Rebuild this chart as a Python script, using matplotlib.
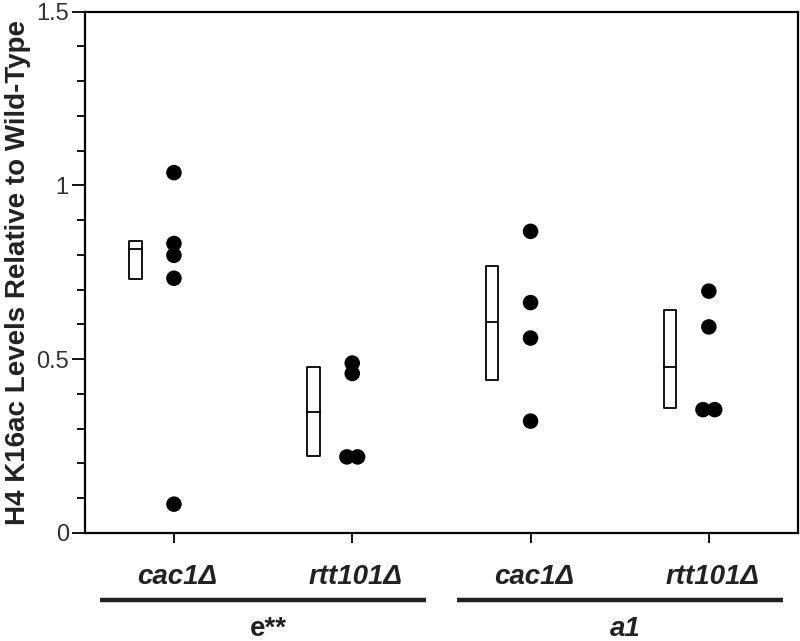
import numpy as np
import matplotlib
matplotlib.use("Agg")
import matplotlib.pyplot as plt
from matplotlib.ticker import MultipleLocator

plt.rcParams['font.family'] = ['Liberation Sans', 'DejaVu Sans']

# data
strains = ["cac1Δ", "rtt101Δ", "cac1Δ", "rtt101Δ"]
groups = ["e**", "a1"]
group_members = [[0, 1], [2, 3]]
yticks = [0, 0.5, 1, 1.5]
ytick_labels = ["0", "0.5", "1", "1.5"]

points = [
    [1.037, 0.833, 0.799, 0.733, 0.083],
    [0.489, 0.459, 0.219, 0.219],
    [0.868, 0.663, 0.561, 0.322],
    [0.696, 0.593, 0.355, 0.355],
]
# jitter for tied points (in category units)
jitter = [
    [0, 0, 0, 0, 0],
    [0, 0, -0.03, 0.03],
    [0, 0, 0, 0],
    [0, 0, -0.033, 0.033],
]
box_low = [0.732, 0.222, 0.440, 0.359]
box_mid = [0.816, 0.349, 0.607, 0.478]
box_high = [0.841, 0.478, 0.767, 0.641]

fig = plt.figure(figsize=(8, 6.41), dpi=100)
ax = fig.add_axes([0.106, 0.1685, 0.8915, 0.8132])

x = np.arange(1, len(strains) + 1)
box_off = -0.217
box_w = 0.071

for i in range(len(strains)):
    xb = x[i] + box_off
    ax.add_patch(plt.Rectangle((xb - box_w / 2, box_low[i]), box_w,
                               box_high[i] - box_low[i], fill=False,
                               edgecolor='black', lw=1.3, joinstyle='round'))
    ax.plot([xb - box_w / 2, xb + box_w / 2], [box_mid[i], box_mid[i]],
            color='black', lw=1.3)
    ax.scatter(x[i] + np.array(jitter[i]), points[i], s=125, color='black',
               zorder=3, edgecolors='none')

ax.set_xlim(0.5, 4.5)
ax.set_ylim(0, 1.5)
ax.set_xticks(x)
ax.set_xticklabels([])
ax.set_yticks(yticks)
ax.set_yticklabels(ytick_labels)
ax.yaxis.set_minor_locator(MultipleLocator(0.1))

for s in ax.spines.values():
    s.set_linewidth(1.6)
ax.tick_params(axis='y', which='major', length=9.5, width=1.3,
               labelsize=17, labelcolor='#333333', pad=2)
ax.tick_params(axis='y', which='minor', length=5.5, width=1.3)
ax.tick_params(axis='x', which='major', length=7, width=1.3)

ax.set_ylabel("H4 K16ac Levels Relative to Wild-Type", fontsize=20,
              fontweight='bold', color='#222222', labelpad=4)

trans = ax.get_xaxis_transform()
for i, name in enumerate(strains):
    ax.text(x[i] + 0.02, -0.084, name, transform=trans, ha='center',
            va='center', fontsize=20, fontweight='bold', style='italic',
            color='#222222')

for g, name in enumerate(groups):
    members = group_members[g]
    center = x[members].mean()
    ax.plot([center - 0.915, center + 0.915], [-0.1285, -0.1285],
            transform=trans, clip_on=False, color='#222222', lw=3.2,
            solid_capstyle='butt')
    ax.text(center + 0.03, -0.185, name, transform=trans, ha='center',
            va='center', fontsize=20, fontweight='bold',
            style='normal' if g == 0 else 'italic', color='#222222')

fig.savefig("out.png", dpi=100)
